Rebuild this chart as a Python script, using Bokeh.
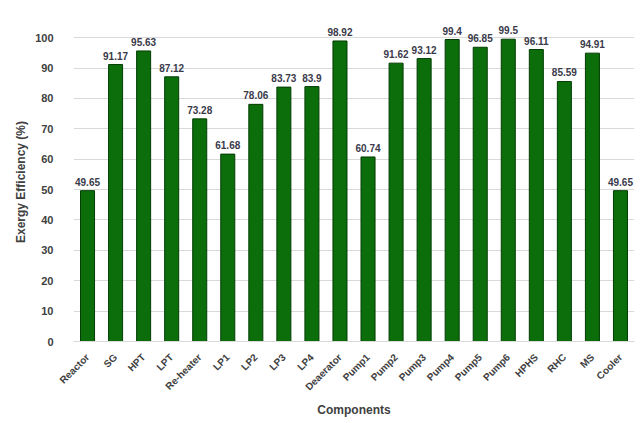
import math
from bokeh.plotting import figure
from bokeh.models import ColumnDataSource, Range1d, FixedTicker, LabelSet
from bokeh.core.properties import value
from bokeh.embed import file_html
from bokeh.resources import INLINE

components = ["Reactor", "SG", "HPT", "LPT", "Re-heater", "LP1", "LP2", "LP3", "LP4",
              "Deaerator", "Pump1", "Pump2", "Pump3", "Pump4", "Pump5", "Pump6",
              "HPHS", "RHC", "MS", "Cooler"]
efficiency = [49.65, 91.17, 95.63, 87.12, 73.28, 61.68, 78.06, 83.73, 83.9,
              98.92, 60.74, 91.62, 93.12, 99.4, 96.85, 99.5,
              96.11, 85.59, 94.91, 49.65]
y_ticks = [0, 10, 20, 30, 40, 50, 60, 70, 80, 90, 100]

labels = [("%g" % v) for v in efficiency]
src = ColumnDataSource(dict(x=components, y=efficiency, lab=labels))

p = figure(x_range=components, y_range=Range1d(0, 105), width=643, height=423,
           output_backend="svg", toolbar_location=None,
           min_border_left=73, min_border_right=9, min_border_top=22, min_border_bottom=82)
p.x_range.range_padding = 0.0

p.vbar(x="x", top="y", width=0.5, source=src, fill_color="#0b6e0b",
       line_color="#033d03", line_width=1)

lab = LabelSet(x="x", y="y", text="lab", source=src, text_align="center",
               text_baseline="bottom", y_offset=5, text_font=value("Liberation Sans"),
               text_font_size="10px", text_font_style="bold", text_color="#3a3a4a")
p.add_layout(lab)

p.outline_line_color = None
p.xgrid.grid_line_color = None
p.ygrid.grid_line_color = "#d9d9d9"
p.ygrid.grid_line_width = 1

p.yaxis.ticker = FixedTicker(ticks=y_ticks)
p.yaxis.axis_line_color = None
p.yaxis.major_tick_line_color = None
p.yaxis.minor_tick_line_color = None
p.yaxis.major_label_text_font = "Liberation Sans"
p.yaxis.major_label_text_font_size = "11px"
p.yaxis.major_label_text_font_style = "bold"
p.yaxis.major_label_text_color = "#404040"
p.yaxis.major_label_standoff = 14
p.yaxis.axis_label = "Exergy Efficiency (%)"
p.yaxis.axis_label_text_font = "Liberation Sans"
p.yaxis.axis_label_text_font_size = "12px"
p.yaxis.axis_label_text_font_style = "bold"
p.yaxis.axis_label_text_color = "#404040"
p.yaxis.axis_label_standoff = 4

p.xaxis.axis_line_color = "#d9d9d9"
p.xaxis.major_tick_line_color = None
p.xaxis.minor_tick_line_color = None
p.xaxis.major_label_orientation = math.pi / 4
p.xaxis.major_label_text_font = "Liberation Sans"
p.xaxis.major_label_text_font_size = "10px"
p.xaxis.major_label_text_font_style = "bold"
p.xaxis.major_label_text_color = "#404040"
p.xaxis.major_label_standoff = 8
p.xaxis.axis_label = "Components"
p.xaxis.axis_label_text_font = "Liberation Sans"
p.xaxis.axis_label_text_font_size = "12px"
p.xaxis.axis_label_text_font_style = "bold"
p.xaxis.axis_label_text_color = "#404040"
p.xaxis.axis_label_standoff = 4

open("out.html", "w").write(file_html(p, INLINE))
